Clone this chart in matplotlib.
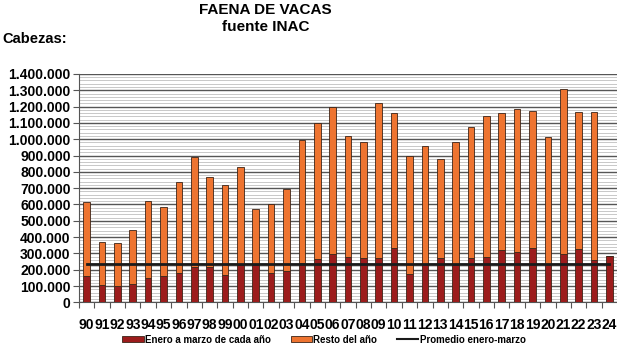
import matplotlib
matplotlib.use("Agg")
import matplotlib.pyplot as plt
from matplotlib.ticker import MultipleLocator, FuncFormatter
from matplotlib.patches import Patch
from matplotlib.lines import Line2D

plt.rcParams['font.family'] = ['Liberation Sans', 'DejaVu Sans']

years = ["90", "91", "92", "93", "94", "95", "96", "97", "98", "99",
         "00", "01", "02", "03", "04", "05", "06", "07", "08", "09",
         "10", "11", "12", "13", "14", "15", "16", "17", "18", "19",
         "20", "21", "22", "23", "24"]
enero_marzo = [160000, 105000, 103000, 112000, 149000, 160000, 177000, 217000, 217000, 168000,
               226000, 226000, 183000, 191000, 239000, 263000, 295000, 277000, 270000, 270000,
               332000, 173000, 237000, 273000, 228000, 273000, 278000, 320000, 310000, 331000,
               233000, 295000, 330000, 261000, 284000]
resto_anio = [453000, 263000, 261000, 330000, 471000, 427000, 559000, 674000, 550000, 552000,
              606000, 345000, 418000, 506000, 755000, 839000, 905000, 743000, 711000, 953000,
              827000, 724000, 724000, 604000, 753000, 804000, 865000, 839000, 872000, 839000,
              783000, 1015000, 837000, 906000, 0]
promedio = 235000

c_dark = '#9C1C1C'
c_orange = '#EE7430'
c_edge = '#3b2418'

fig = plt.figure(figsize=(6.17, 3.52), dpi=100)
ax = fig.add_axes([0.128, 0.141, 0.872, 0.649])

x = list(range(len(years)))
ax.bar(x, enero_marzo, width=0.43, color=c_dark, edgecolor=c_edge, linewidth=0.6, zorder=3)
ax.bar(x, resto_anio, width=0.43, bottom=enero_marzo, color=c_orange, edgecolor=c_edge,
       linewidth=0.6, zorder=3)
ax.plot(x, [promedio] * len(x), color='#1a1a1a', linewidth=2.0, zorder=4)

ax.set_xlim(-0.5, len(years) - 0.5)
ax.set_ylim(0, 1400000)
ax.yaxis.set_major_locator(MultipleLocator(100000))
ax.yaxis.set_minor_locator(MultipleLocator(20000))
ax.yaxis.set_major_formatter(FuncFormatter(lambda v, p: f"{int(v):,}".replace(",", ".")))
ax.grid(which='major', axis='y', color='#555555', linewidth=1.0, zorder=1)
ax.grid(which='minor', axis='y', color='#c8c8c8', linewidth=0.7, zorder=0)

ax.set_xticks(x)
ax.set_xticklabels(years)
ax.set_xticks([i + 0.5 for i in x[:-1]] + [-0.5], minor=True)
ax.tick_params(axis='x', which='major', length=0, pad=11, labelsize=10)
ax.tick_params(axis='x', which='minor', length=4, color='#555555', width=0.8)
ax.tick_params(axis='y', which='major', length=4, color='#555555', width=0.8, labelsize=10, pad=2)
ax.tick_params(axis='y', which='minor', length=0)
for lab in ax.get_xticklabels() + ax.get_yticklabels():
    lab.set_fontweight('bold')

for s in ['top', 'right']:
    ax.spines[s].set_visible(False)
ax.spines['left'].set_color('#555555')
ax.spines['bottom'].set_color('#555555')

fig.text(0.43, 0.972, "FAENA DE VACAS", ha='center', va='center', fontsize=11, fontweight='bold')
fig.text(0.43, 0.923, "fuente INAC", ha='center', va='center', fontsize=11, fontweight='bold')
fig.text(0.004, 0.89, "Cabezas:", ha='left', va='center', fontsize=10.5, fontweight='bold')

handles = [Patch(facecolor=c_dark, edgecolor=c_edge, linewidth=0.6),
           Patch(facecolor=c_orange, edgecolor=c_edge, linewidth=0.6),
           Line2D([0], [0], color='#1a1a1a', linewidth=1.5)]
labels = ["Enero a marzo de cada año", "Resto del año", "Promedio enero-marzo"]
leg = fig.legend(handles, labels, loc='center', bbox_to_anchor=(0.525, 0.035), ncol=3,
                 frameon=False, prop={'weight': 'bold', 'size': 7},
                 handlelength=2.2, handleheight=0.6, handletextpad=0.15, columnspacing=2.0)

fig.savefig("out.png", dpi=100)
